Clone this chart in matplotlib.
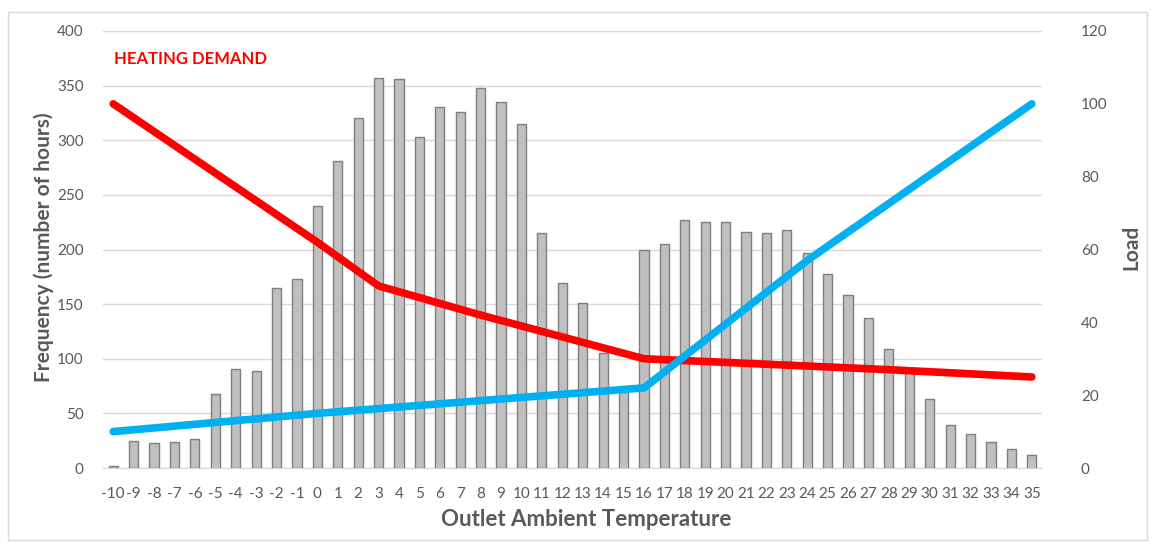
import matplotlib
matplotlib.use("Agg")
import matplotlib.pyplot as plt
from matplotlib.patches import Rectangle

plt.rcParams["font.family"] = ["Lato", "DejaVu Sans"]

temps = list(range(-10, 36))
hours = [2, 25, 23, 24, 27, 68, 91, 89, 165, 173,
         240, 281, 320, 357, 356, 303, 330, 326, 348, 335,
         315, 215, 169, 151, 105, 70, 200, 205, 227, 225,
         225, 216, 215, 218, 197, 178, 158, 137, 109, 88,
         63, 39, 31, 24, 17, 12]

heat_x = [-10, 0, 3, 8, 16, 28, 35]
heat_load = [100, 62, 50, 42, 30, 27, 25]

cool_x = [-10, 0, 16, 24, 35]
cool_load = [10, 15, 22, 57, 100]

grey = "#595959"

fig = plt.figure(figsize=(11.55, 5.46), dpi=100)
ax = fig.add_axes([103 / 1155, 78 / 546, 939 / 1155, 437 / 546])
fig.patches.append(Rectangle((8 / 1155, 6 / 546), 1139 / 1155, 528 / 546,
                             transform=fig.transFigure, fill=False,
                             edgecolor="#D9D9D9", linewidth=1))

ax.bar(temps, hours, width=0.45, color="#BFBFBF", edgecolor="#7F7F7F",
       linewidth=1, zorder=2)
ax.set_xlim(-10.5, 35.5)
ax.set_ylim(0, 400)
ax.set_yticks(range(0, 401, 50))
ax.set_xticks(temps)
ax.set_xticklabels([str(t) for t in temps])
ax.grid(axis="y", color="#D9D9D9", linewidth=1, zorder=0)
ax.set_axisbelow(True)
for s in ["top", "left", "right"]:
    ax.spines[s].set_visible(False)
ax.spines["bottom"].set_color("#D9D9D9")
ax.tick_params(axis="x", length=0, labelsize=11, colors=grey, pad=14)
ax.tick_params(axis="y", length=0, labelsize=11, colors=grey, pad=14)
ax.set_ylabel("Frequency (number of hours)", fontsize=15, fontweight="bold",
              color=grey)
ax.yaxis.set_label_coords(-0.052, 0.506)
ax.set_xlabel("Outlet Ambient Temperature", fontsize=16, fontweight="bold",
              color=grey)
ax.xaxis.set_label_coords(0.515, -0.094)

ax2 = ax.twinx()
ax2.plot(heat_x, heat_load, color="#FF0000", linewidth=5.5,
         solid_capstyle="round", zorder=3)
ax2.plot(cool_x, cool_load, color="#00B0F0", linewidth=5.5,
         solid_capstyle="round", zorder=3)
ax2.set_ylim(0, 120)
ax2.set_yticks(range(0, 121, 20))
for s in ax2.spines.values():
    s.set_visible(False)
ax2.tick_params(length=0, labelsize=11, colors=grey, pad=28)
ax2.set_ylabel("Load", fontsize=15, fontweight="bold", color=grey)
ax2.yaxis.set_label_coords(1.085, 0.506)

ax.text(0.012, 0.925, "HEATING DEMAND", transform=ax.transAxes,
        color="#FF0000", fontsize=12, fontweight="bold")

fig.savefig("out.png", dpi=100)
